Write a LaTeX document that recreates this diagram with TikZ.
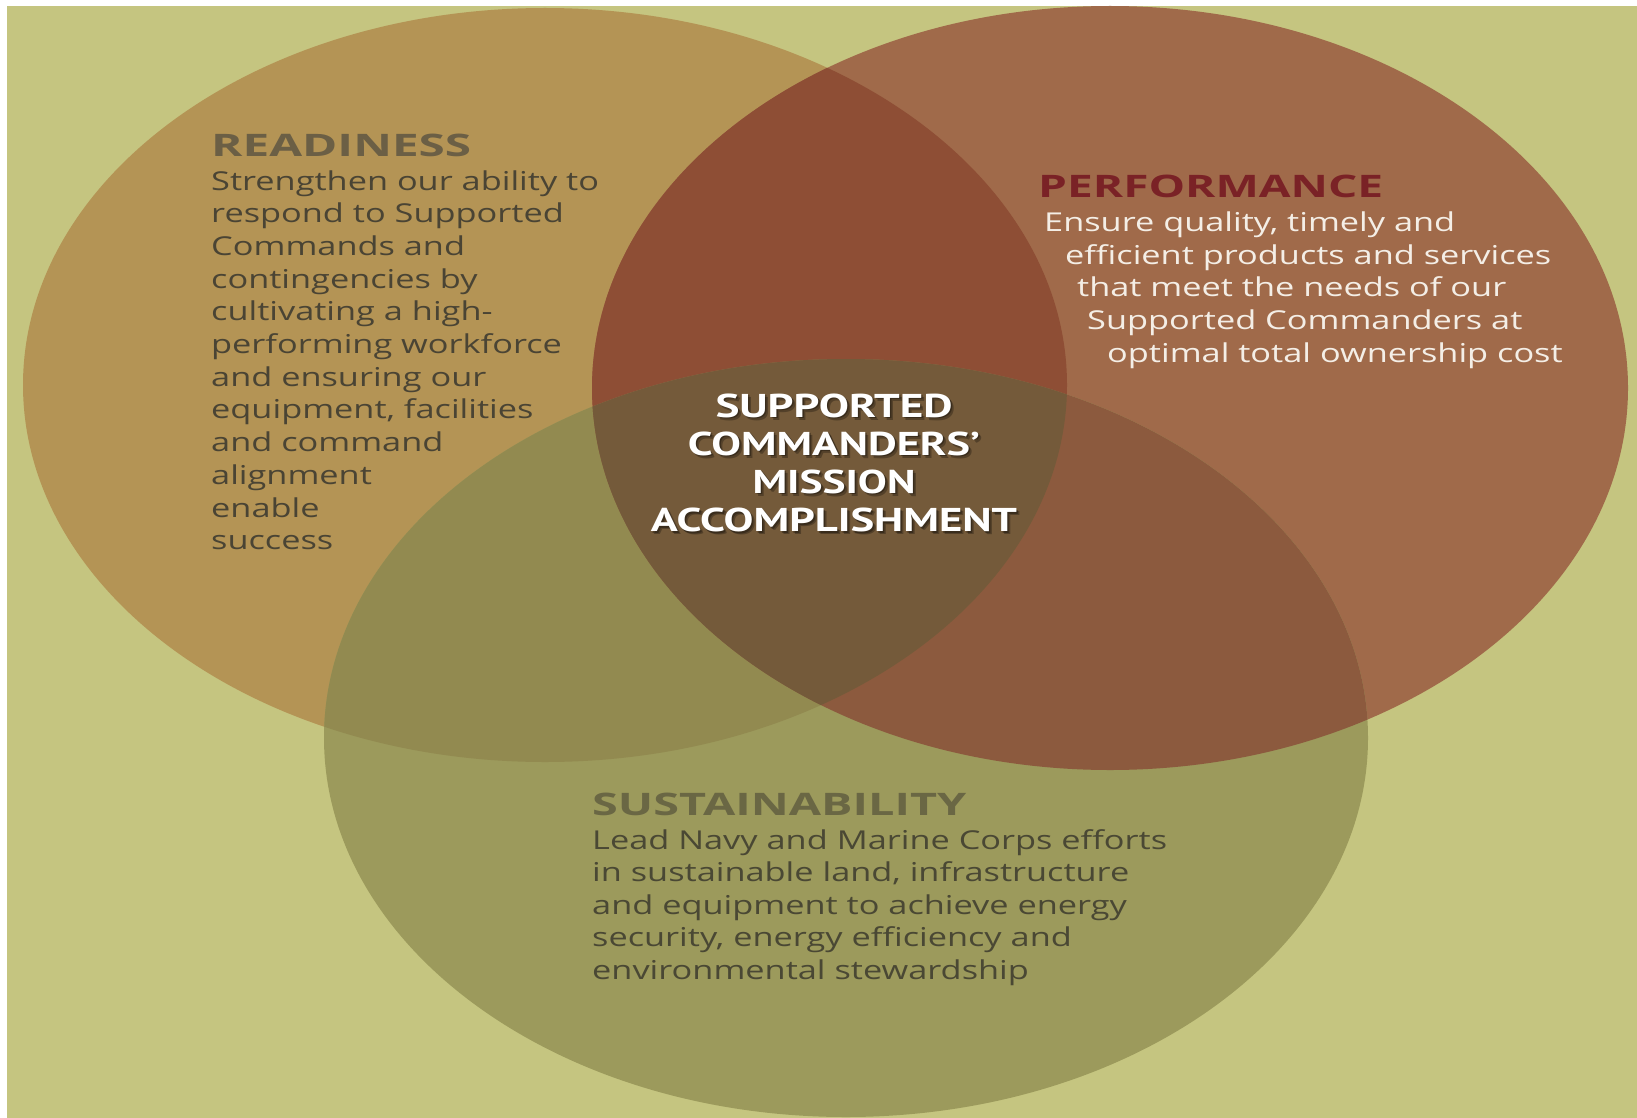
\documentclass[tikz,border=0pt]{standalone}
\usepackage{fontspec}
\usepackage{graphicx}
\newfontfamily\bodyfont[FakeStretch=1.32]{Open Sans}
\newfontfamily\headfont{Open Sans}
\newfontfamily\centerfont{PT Sans}
\definecolor{bgc}{HTML}{C5C580}
\definecolor{rc}{HTML}{B49455}
\definecolor{pc}{HTML}{A06A4A}
\definecolor{sc}{HTML}{9C9A5C}
\definecolor{rpc}{HTML}{8E4E35}
\definecolor{rsc}{HTML}{928A50}
\definecolor{psc}{HTML}{8C5A3E}
\definecolor{allc}{HTML}{745A3A}
\definecolor{rhead}{HTML}{6B5F45}
\definecolor{rtext}{HTML}{4A4434}
\definecolor{phead}{HTML}{7A2226}
\definecolor{ptext}{HTML}{F4EEE6}
\definecolor{shead}{HTML}{6A6744}
\definecolor{stext}{HTML}{4A4834}
\def\Rpath{(545,385) ellipse [x radius=522pt, y radius=377pt]}
\def\Ppath{(1110,388) ellipse [x radius=518pt, y radius=382pt]}
\def\Spath{(846,738) ellipse [x radius=522pt, y radius=379pt]}
\tikzset{
  body/.style={anchor=base west, inner sep=0pt, font=\bodyfont\fontsize{26}{30}\selectfont},
  head/.style={anchor=base west, inner sep=0pt, font=\headfont\bfseries\fontsize{31}{36}\selectfont},
  ctr/.style={anchor=base, inner sep=0pt, font=\centerfont\bfseries\fontsize{33}{38}\selectfont},
}
\begin{document}
\begin{tikzpicture}[x=1pt,y=-1pt]
\useasboundingbox (0,0) rectangle (1637,1118);
\fill[white] (0,0) rectangle (1637,1118);
\fill[bgc] (7,6) rectangle (1637,1118);
\begin{scope}
\clip (7,6) rectangle (1637,1118);
\fill[rc] \Rpath;
\fill[pc] \Ppath;
\fill[sc] \Spath;
\begin{scope}\clip \Rpath; \fill[rpc] \Ppath; \end{scope}
\begin{scope}\clip \Rpath; \fill[rsc] \Spath; \end{scope}
\begin{scope}\clip \Ppath; \fill[psc] \Spath; \end{scope}
\begin{scope}\clip \Rpath; \clip \Ppath; \fill[allc] \Spath; \end{scope}
\end{scope}
% Readiness
\node[head, text=rhead] (rh) at (211,157) {\resizebox{260pt}{\height}{READINESS}};
\foreach \t [count=\i] in {Strengthen our ability to, respond to Supported, Commands and, contingencies by, cultivating a high-, performing workforce, and ensuring our, {equipment, facilities}, and command, alignment, enable, success}
  \node[body, text=rtext] (r\i) at (211,{190+32.7*(\i-1)}) {\t};
% Performance
\node[head, text=phead] (ph) at (1038,198) {\resizebox{345pt}{\height}{PERFORMANCE}};
\node[body, text=ptext] (p1) at (1044,231) {Ensure quality, timely and};
\node[body, text=ptext] (p2) at (1065,264) {efficient products and services};
\node[body, text=ptext] (p3) at (1077,296) {that meet the needs of our};
\node[body, text=ptext] (p4) at (1087,329) {Supported Commanders at};
\node[body, text=ptext] (p5) at (1107,362) {optimal total ownership cost};
% Sustainability
\node[head, text=shead] (sh) at (592,815) {\resizebox{374pt}{\height}{SUSTAINABILITY}};
\foreach \t [count=\i] in {Lead Navy and Marine Corps efforts, {in sustainable land, infrastructure}, and equipment to achieve energy, {security, energy efficiency and}, environmental stewardship}
  \node[body, text=stext] (s\i) at (592,{849+32.6*(\i-1)}) {\t};
% Center
\foreach \t/\w [count=\i] in {SUPPORTED/237, COMMANDERS’/292, MISSION/163, ACCOMPLISHMENT/366}{
  \node[ctr, text=black, opacity=0.28] (cs\i) at ({834+3},{417+38.2*(\i-1)+3}) {\resizebox{\w pt}{\height}{\t}};
  \node[ctr, text=black, opacity=0.3] (ct\i) at ({834+1.5},{417+38.2*(\i-1)+1.5}) {\resizebox{\w pt}{\height}{\t}};
  \node[ctr, text=white] (c\i) at (834,{417+38.2*(\i-1)}) {\resizebox{\w pt}{\height}{\t}};
}
\end{tikzpicture}
\end{document}
